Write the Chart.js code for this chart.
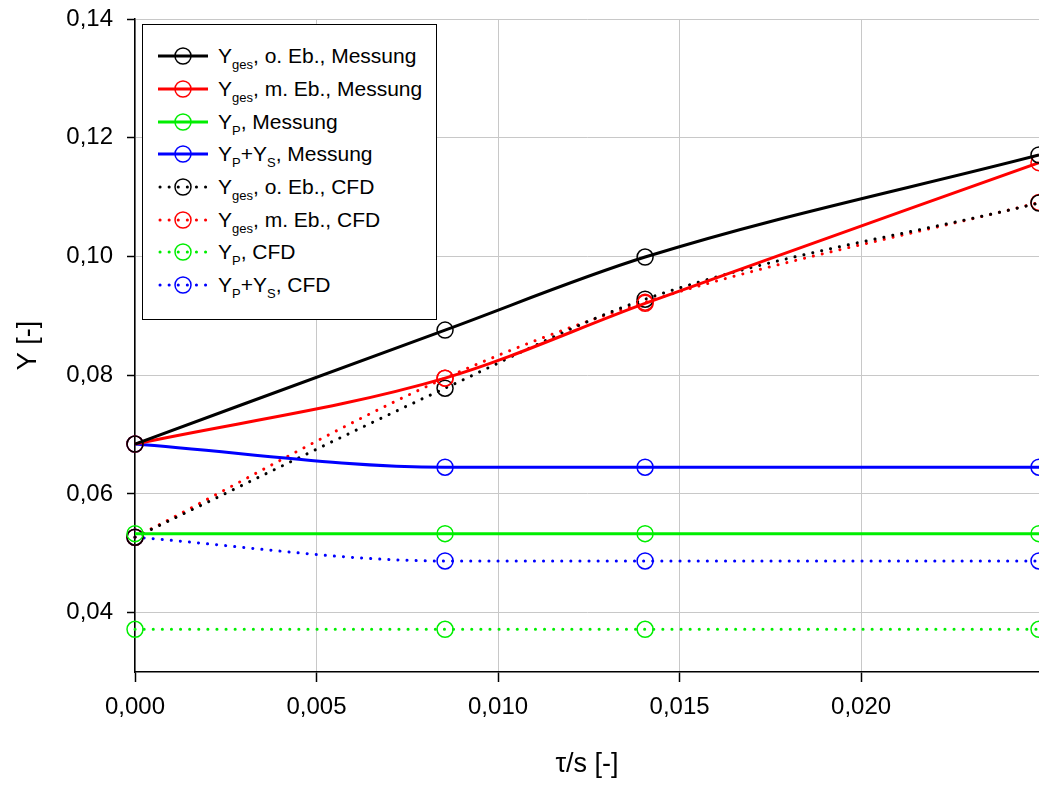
<!DOCTYPE html>
<html>
<head>
<meta charset="utf-8">
<script src="https://cdn.jsdelivr.net/npm/chart.js@4.4.1/dist/chart.umd.min.js"></script>
<style>
  html, body { margin: 0; padding: 0; background: #fff; }
  #wrap { position: relative; width: 1039px; height: 785px; }
  #legend {
    position: absolute; left: 142px; top: 24px; width: 295px; height: 296px;
    border: 1px solid #000; background: #fff; box-sizing: border-box;
    font-family: "Liberation Sans", Arial, sans-serif; font-size: 21px; color: #000;
    padding-top: 15px;
  }
  .row { display: flex; align-items: center; height: 32.7px; white-space: nowrap; }
  .row svg { margin-left: 15px; margin-right: 10px; flex: none; }
  .row sub { font-size: 13px; vertical-align: -6px; line-height: 0; }
</style>
</head>
<body>
<div id="wrap">
  <canvas id="chart" width="1039" height="785"></canvas>
  <div id="legend"></div>
</div>
<script>
// x positions (tau/s)
const xValues = [0, 0.00854, 0.01405, 0.0249];

// measurement series
const yGesOMess = [0.0684, 0.0876, 0.0999, 0.1171];
const yGesMMess = [0.0684, 0.0795, 0.0921, 0.1158];
const yPMess    = [0.0533, 0.0533, 0.0533, 0.0533];
const yPSMess   = [0.0684, 0.0645, 0.0645, 0.0645];

// CFD series
const yGesOCfd = [0.0527, 0.0778, 0.0928, 0.1090];
const yGesMCfd = [0.0527, 0.0795, 0.0923, 0.1091];
const yPCfd    = [0.0372, 0.0372, 0.0372, 0.0372];
const yPSCfd   = [0.0527, 0.0487, 0.0487, 0.0487];

// tick labels
const xTicks = [0, 0.005, 0.010, 0.015, 0.020];
const yTicks = [0.04, 0.06, 0.08, 0.10, 0.12, 0.14];

const legendHtml = [
  'Y<sub>ges</sub>, o. Eb., Messung',
  'Y<sub>ges</sub>, m. Eb., Messung',
  'Y<sub>P</sub>, Messung',
  'Y<sub>P</sub>+Y<sub>S</sub>, Messung',
  'Y<sub>ges</sub>, o. Eb., CFD',
  'Y<sub>ges</sub>, m. Eb., CFD',
  'Y<sub>P</sub>, CFD',
  'Y<sub>P</sub>+Y<sub>S</sub>, CFD'
];

const seriesList = [yGesOMess, yGesMMess, yPMess, yPSMess, yGesOCfd, yGesMCfd, yPCfd, yPSCfd];
const colors = ['#000000', '#ff0000', '#00ee00', '#0000ff', '#000000', '#ff0000', '#00ee00', '#0000ff'];

const FONT = '"Liberation Sans", Arial, sans-serif';

// Build datasets: first four solid, last four dotted
const datasets = seriesList.map((ys, i) => {
  const dotted = i >= 4;
  return {
    label: legendHtml[i].replace(/<[^>]+>/g, ''),
    data: ys.map((y, k) => ({ x: xValues[k], y: y })),
    borderColor: colors[i],
    backgroundColor: 'rgba(0,0,0,0)',
    borderWidth: 3,
    borderDash: dotted ? [0.1, 9] : [],
    borderCapStyle: dotted ? 'round' : 'butt',
    cubicInterpolationMode: 'monotone',
    pointRadius: 8,
    pointHoverRadius: 8,
    pointBorderWidth: 1.5,
    pointBorderColor: colors[i],
    pointBackgroundColor: 'rgba(0,0,0,0)',
    clip: 10
  };
});

const fmt = (v, d) => v.toFixed(d).replace('.', ',');

const ctx = document.getElementById('chart');
new Chart(ctx, {
  type: 'line',
  data: { datasets: datasets },
  options: {
    responsive: false,
    animation: false,
    layout: { autoPadding: false, padding: { top: 19, right: 0, left: 0, bottom: 0 } },
    plugins: { legend: { display: false }, tooltip: { enabled: false } },
    scales: {
      x: {
        type: 'linear',
        min: 0,
        max: 0.0249,
        afterBuildTicks: s => { s.ticks = xTicks.map(v => ({ value: v })); },
        afterFit: s => { s.height = 113; s.paddingLeft = 0; s.paddingRight = 0; },
        ticks: {
          color: '#000',
          font: { family: FONT, size: 24 },
          padding: 11,
          maxRotation: 0,
          callback: v => fmt(v, 3)
        },
        grid: { color: '#c8c8c8', lineWidth: 1, tickColor: '#000', tickLength: 10, tickWidth: 1.5 },
        border: { color: '#000', width: 1.5 },
        title: {
          display: true,
          text: 'τ/s [-]',
          color: '#000',
          font: { family: FONT, size: 27 },
          padding: { top: 0, bottom: 4 }
        }
      },
      y: {
        min: 0.03,
        max: 0.14,
        afterBuildTicks: s => { s.ticks = yTicks.map(v => ({ value: v })); },
        afterFit: s => { s.width = 135; s.paddingTop = 0; s.paddingBottom = 0; },
        ticks: {
          color: '#000',
          font: { family: FONT, size: 24 },
          padding: 14,
          callback: v => fmt(v, 2)
        },
        grid: { color: '#c8c8c8', lineWidth: 1, tickColor: '#000', tickLength: 8, tickWidth: 1.5 },
        border: { color: '#000', width: 1.5 },
        title: {
          display: true,
          text: 'Y [-]',
          color: '#000',
          font: { family: FONT, size: 27 },
          padding: { top: 12, bottom: 0 }
        }
      }
    }
  }
});

// HTML legend with subscripts
const legend = document.getElementById('legend');
datasets.forEach((ds, i) => {
  const dotted = i >= 4;
  const c = colors[i];
  const line = dotted
    ? `<line x1="2" y1="10" x2="48" y2="10" stroke="${c}" stroke-width="3" stroke-linecap="round" stroke-dasharray="0.1 9"/>`
    : `<line x1="0" y1="10" x2="50" y2="10" stroke="${c}" stroke-width="3"/>`;
  const row = document.createElement('div');
  row.className = 'row';
  row.innerHTML =
    `<svg width="50" height="20" viewBox="0 0 50 20">${line}` +
    `<circle cx="25" cy="10" r="8" fill="none" stroke="${c}" stroke-width="1.5"/></svg>` +
    `<span>${legendHtml[i]}</span>`;
  legend.appendChild(row);
});
</script>
</body>
</html>
